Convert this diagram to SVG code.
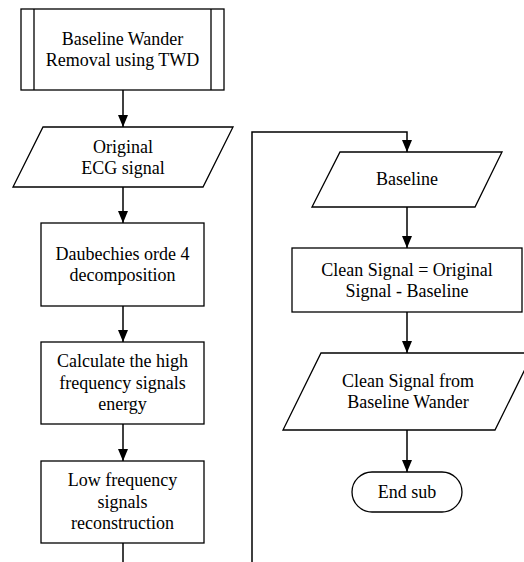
<svg xmlns="http://www.w3.org/2000/svg" width="524" height="562" viewBox="0 0 524 562">
<style>
.s{fill:#fff;stroke:#000;stroke-width:1.3}
.c{fill:none;stroke:#000;stroke-width:1.5}
.t text{font-size:18px;fill:#000;text-anchor:middle}
</style>
<defs>
<marker id="ad" markerWidth="12" markerHeight="10" refX="12" refY="5" orient="auto" markerUnits="userSpaceOnUse" viewBox="0 0 12 10">
<path d="M0,0 L12,5 L0,10 Z" fill="#000"/>
</marker>
</defs>
<rect width="524" height="562" fill="#fff"/>
<g id="connectors">
<path class="c" d="M123,90 V127" marker-end="url(#ad)"/>
<path class="c" d="M123,187 V223" marker-end="url(#ad)"/>
<path class="c" d="M123,306 V342" marker-end="url(#ad)"/>
<path class="c" d="M123,424 V461" marker-end="url(#ad)"/>
<path class="c" d="M123,543 V562"/>
<path class="c" d="M252,562 V132 H407 V152" marker-end="url(#ad)"/>
<path class="c" d="M407,207 V248" marker-end="url(#ad)"/>
<path class="c" d="M407,312 V353" marker-end="url(#ad)"/>
<path class="c" d="M407,430 V472" marker-end="url(#ad)"/>
</g>
<g class="t" font-family="'Liberation Serif', 'Times New Roman', 'DejaVu Serif', serif">
<g id="n1">
<rect class="s" x="21" y="9" width="203" height="81"/>
<path class="c" style="stroke-width:1.3" d="M34,9 V90 M211,9 V90"/>
<text x="122.5" y="45">Baseline Wander</text>
<text x="122.5" y="66">Removal using TWD</text>
</g>
<g id="n2">
<polygon class="s" points="43,127 233,127 203,187 13,187"/>
<text x="123" y="153">Original</text>
<text x="123" y="174">ECG signal</text>
</g>
<g id="n3">
<rect class="s" x="41" y="223" width="163" height="83"/>
<text x="122.5" y="260">Daubechies orde 4</text>
<text x="122.5" y="281">decomposition</text>
</g>
<g id="n4">
<rect class="s" x="41" y="342" width="163" height="82"/>
<text x="122.5" y="367">Calculate the high</text>
<text x="122.5" y="388.5">frequency signals</text>
<text x="122.5" y="410">energy</text>
</g>
<g id="n5">
<rect class="s" x="41" y="461" width="163" height="82"/>
<text x="122.5" y="486">Low frequency</text>
<text x="122.5" y="507.5">signals</text>
<text x="122.5" y="529">reconstruction</text>
</g>
<g id="n6">
<polygon class="s" points="340,152 502,152 475,207 312,207"/>
<text x="407" y="185">Baseline</text>
</g>
<g id="n7">
<rect class="s" x="292" y="248" width="230" height="64"/>
<text x="407" y="276">Clean Signal = Original</text>
<text x="407" y="297">Signal - Baseline</text>
</g>
<g id="n8">
<polygon class="s" points="321,353 533,353 495,430 283,430"/>
<text x="408" y="387">Clean Signal from</text>
<text x="408" y="408">Baseline Wander</text>
</g>
<g id="n9">
<rect class="s" x="352" y="472" width="110" height="40" rx="20" ry="20"/>
<text x="407" y="498">End sub</text>
</g>
</g>
</svg>
